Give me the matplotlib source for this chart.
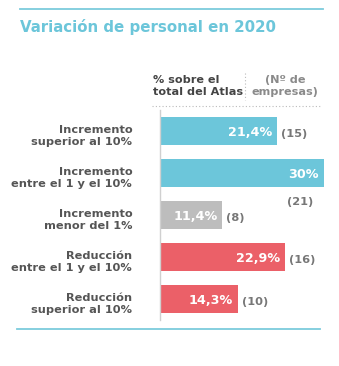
import matplotlib
matplotlib.use("Agg")
import matplotlib.pyplot as plt
from matplotlib.lines import Line2D

categories = ["Incremento\nsuperior al 10%", "Incremento\nentre el 1 y el 10%",
              "Incremento\nmenor del 1%", "Reducción\nentre el 1 y el 10%",
              "Reducción\nsuperior al 10%"]
values = [21.4, 30.0, 11.4, 22.9, 14.3]
value_labels = ["21,4%", "30%", "11,4%", "22,9%", "14,3%"]
counts = ["(15)", "(21)", "(8)", "(16)", "(10)"]
colors = ["#6cc6da", "#6cc6da", "#bdbdbd", "#eb6068", "#eb6068"]

W, H = 339, 366
dpi = 100
fig = plt.figure(figsize=(W / dpi, H / dpi), dpi=dpi)
plt.rcParams['font.family'] = ['DejaVu Sans']

def fx(px): return px / W
def fy(py): return 1 - py / H

# decorative lines
fig.add_artist(Line2D([fx(20), fx(323)], [fy(9), fy(9)], color="#7ccbdc", lw=1.3))
fig.add_artist(Line2D([fx(17), fx(320)], [fy(329), fy(329)], color="#7ccbdc", lw=1.3))
fig.text(fx(20), fy(27), "Variación de personal en 2020", color="#6cc6da",
         fontsize=10.8, fontweight="bold", va="center", ha="left")

# header
fig.text(fx(153), fy(86), "% sobre el\ntotal del Atlas", color="#444444", fontsize=8.1,
         fontweight="bold", va="center", ha="left", linespacing=1.3)
fig.text(fx(285), fy(86), "(Nº de\nempresas)", color="#8a8a8a", fontsize=8.1,
         fontweight="bold", va="center", ha="center", linespacing=1.3)
fig.add_artist(Line2D([fx(245), fx(245)], [fy(73), fy(100)], color="#bbbbbb", lw=0.8,
                      linestyle=(0, (1, 2))))
fig.add_artist(Line2D([fx(152), fx(320)], [fy(106), fy(106)], color="#bbbbbb", lw=0.8,
                      linestyle=(0, (1, 2))))

# axes
ax = fig.add_axes([fx(160), fy(320), fx(164), (320 - 110) / H])
n = len(values)
ypos = list(range(n))
ax.barh(ypos, values, height=0.667, color=colors)
ax.set_xlim(0, 30)
ax.set_ylim(n - 0.5, -0.5)
for s in ["top", "right", "bottom"]:
    ax.spines[s].set_visible(False)
ax.spines["left"].set_color("#d0d0d0")
ax.spines["left"].set_linewidth(1)
ax.set_xticks([])
ax.set_yticks([y + 0.07 for y in ypos])
ax.set_yticklabels(categories, fontsize=8.2, fontweight="bold", color="#555555",
                   linespacing=1.3)
ax.tick_params(axis="y", length=0, pad=20)

px_per_unit = 164 / 30
for i, (v, lab, c) in enumerate(zip(values, value_labels, counts)):
    ax.text(v - 5 / px_per_unit, i + 0.04, lab, color="white", fontsize=9.2,
            fontweight="bold", ha="right", va="center")
    if v + 30 / px_per_unit > 30:
        ax.text(v - 11 / px_per_unit, i + 0.7, c, color="#777777", fontsize=8.2,
                fontweight="bold", ha="right", va="center", clip_on=False)
    else:
        ax.text(v + 4 / px_per_unit, i + 0.06, c, color="#777777", fontsize=8.2,
                fontweight="bold", ha="left", va="center", clip_on=False)

fig.savefig("out.png", dpi=dpi)
